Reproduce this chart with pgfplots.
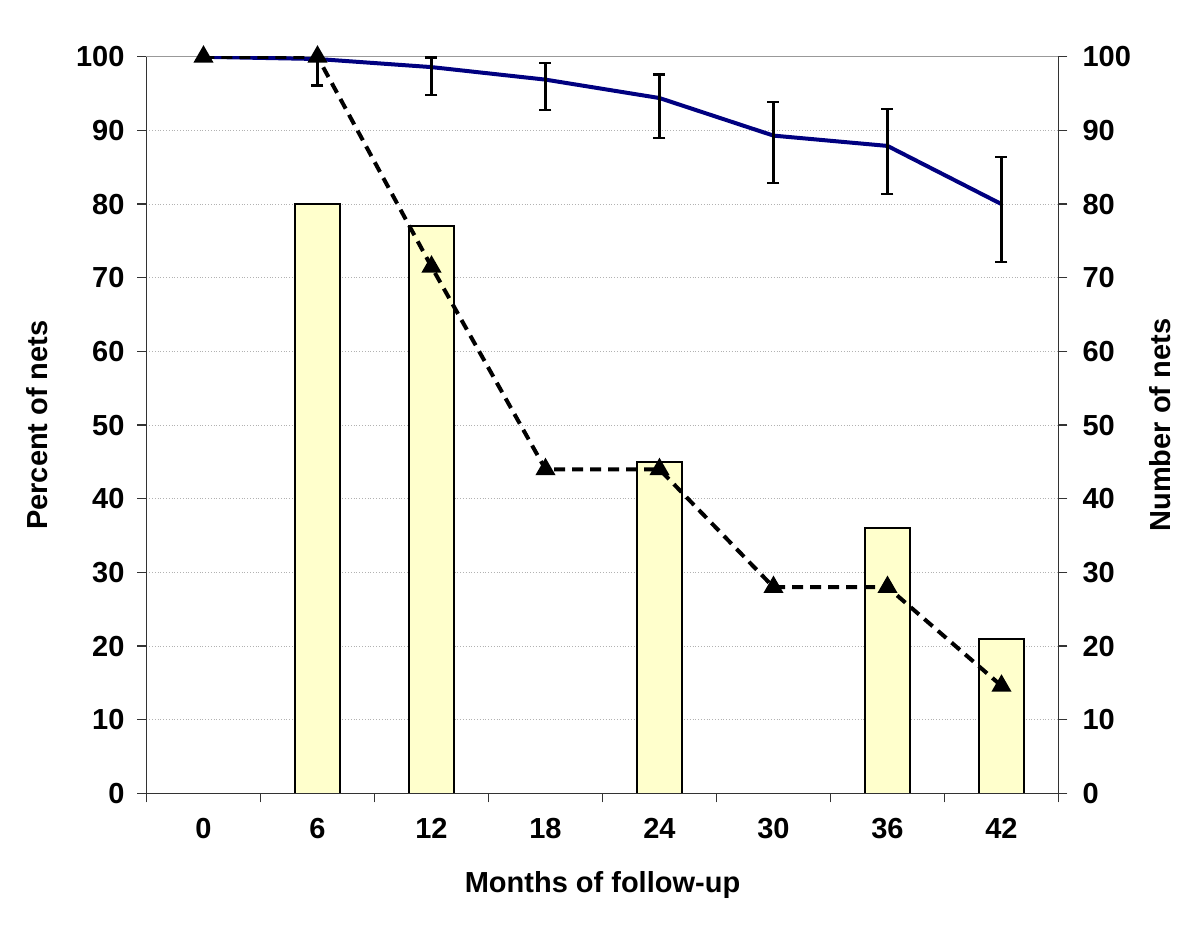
\documentclass[border=0pt]{standalone}
\usepackage{fontspec}
\setmainfont{Liberation Sans}
\usepackage{pgfplots}
\pgfplotsset{compat=1.18}
\definecolor{barfill}{HTML}{FFFFCC}
\definecolor{navyline}{HTML}{000080}
\begin{document}
\begin{tikzpicture}[font=\fontsize{14.5}{17}\selectfont\bfseries]
\path[use as bounding box] (-73.25pt,-66.8pt) rectangle (526.75pt,396.7pt);
\begin{axis}[
  scale only axis, width=456pt, height=368.3pt,
  xmin=-0.5, xmax=7.5, ymin=0, ymax=100,
  axis x line*=bottom, axis y line*=left,
  axis line style={-, black!80, line width=0.7pt},
  /pgf/number format/assume math mode=true,
  ytick={0,10,...,100},
  ymajorgrids, grid style={densely dotted, gray!60, line width=0.5pt},
  tick align=outside, major tick length=4.5pt,
  tick style={black!80, line width=0.7pt},
  xtick={0,...,7}, xticklabels={0,6,12,18,24,30,36,42},
  xtick style={draw=none},
  xticklabel style={yshift=-4.5pt},
  yticklabel style={xshift=-3pt},
  xlabel={Months of follow-up},
  ylabel={Percent of nets},
  xlabel style={at={(axis description cs:0.5,-0.1244)}, anchor=center},
  ylabel style={at={(axis description cs:-0.120,0.5)}, anchor=center},
]
\draw[gray!80, line width=0.6pt] (axis cs:-0.5,100) -- (axis cs:7.5,100);
\addplot[ybar, bar width=0.395, fill=barfill, draw=black, line width=0.9pt]
  coordinates {(1,80) (2,77) (4,45) (6,36) (7,21)};
\addplot[navyline, line width=2pt, mark=none,
  error bars/.cd, y dir=both, y explicit,
  error bar style={black, line width=1.1pt},
  error mark options={rotate=90, mark size=3pt, line width=1.1pt, black}]
  coordinates {
    (0,100)
    (1,99.7) += (0,0.3) -= (0,3.6)
    (2,98.6) += (0,1.3) -= (0,3.8)
    (3,96.9) += (0,2.3) -= (0,4.1)
    (4,94.4) += (0,3.2) -= (0,5.4)
    (5,89.3) += (0,4.6) -= (0,6.4)
    (6,87.9) += (0,5.0) -= (0,6.5)
    (7,80.0) += (0,6.4) -= (0,7.9)
  };
\addplot[black, line width=2pt, dash pattern=on 5.5pt off 3.5pt,
  mark=triangle*, mark size=5pt, mark options={solid, fill=black, line width=0.8pt}]
  coordinates {(0,100) (1,100) (2,71.5) (3,44) (4,44) (5,28) (6,28) (7,14.6)};
\end{axis}
\begin{axis}[
  scale only axis, width=456pt, height=368.3pt,
  xmin=-0.5, xmax=7.5, ymin=0, ymax=100,
  axis x line*=bottom, axis y line*=right,
  axis line style={-, black!80, line width=0.7pt},
  /pgf/number format/assume math mode=true,
  ytick={0,10,...,100},
  tick align=outside, major tick length=4.5pt,
  tick style={black!80, line width=0.7pt},
  xtick={-0.5,0.5,...,7.5}, xticklabels={},
  yticklabel style={xshift=4pt},
  ylabel={Number of nets},
  ylabel style={at={(axis description cs:1.111,0.5)}, anchor=center},
]
\end{axis}
\end{tikzpicture}
\end{document}
